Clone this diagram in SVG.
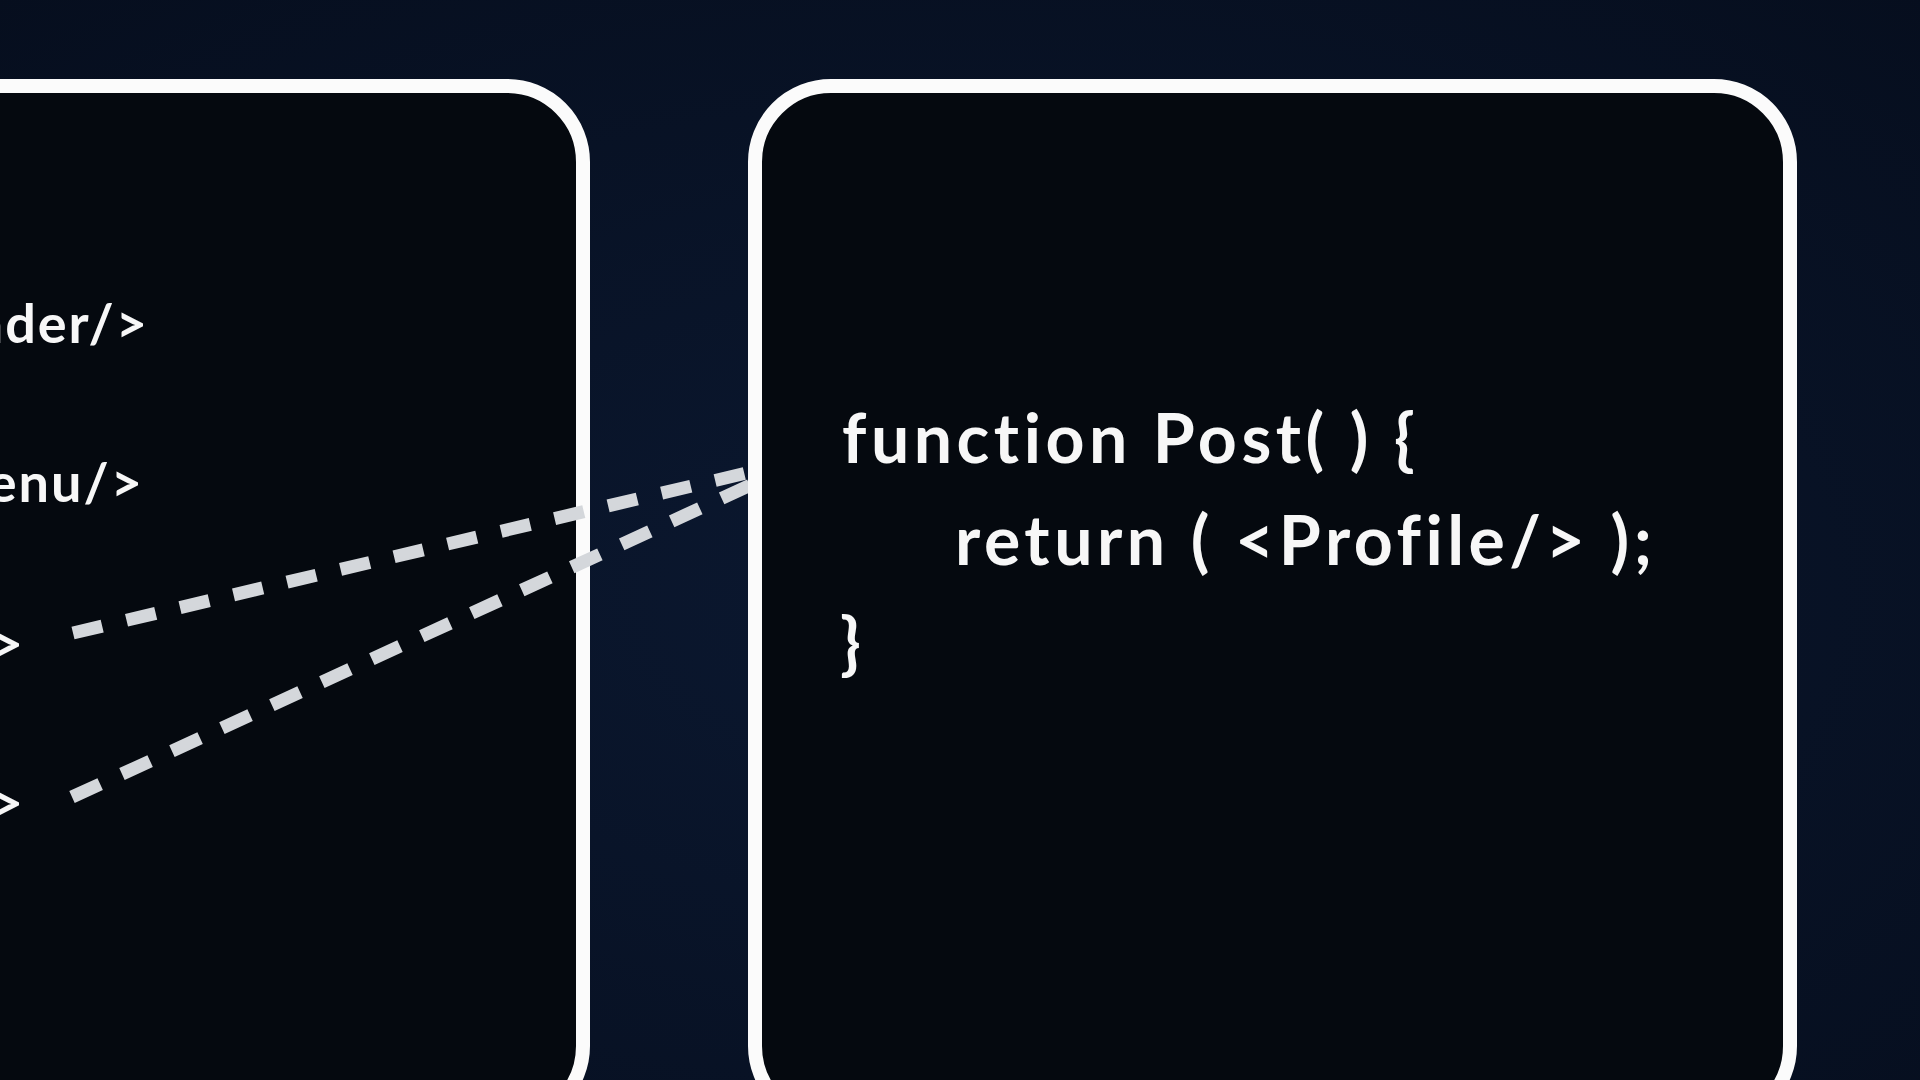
<svg xmlns="http://www.w3.org/2000/svg" width="1920" height="1080" viewBox="0 0 1920 1080">
<defs>
<radialGradient id="bg" cx="50%" cy="55%" r="75%">
<stop offset="0" stop-color="#0b1830"/>
<stop offset="1" stop-color="#060e1e"/>
</radialGradient>
<style>
.box{fill:#05090f;stroke:#fbfbfb;stroke-width:14}
.code{font-family:Lato,"Open Sans","Liberation Sans",sans-serif;font-weight:700;fill:#f7f7f7;font-variant-ligatures:none;font-feature-settings:"liga" 0,"clig" 0}
.lt{font-size:54px;letter-spacing:2px}
.rt{font-size:68px;letter-spacing:4.5px}
.dash{stroke:#d4d7db;stroke-width:13;fill:none;stroke-linecap:butt}
</style>
</defs>
<rect width="1920" height="1080" fill="url(#bg)"/>
<g id="app-box">
<rect class="box" x="-400" y="86" width="983" height="1036" rx="76"/>
<text class="code lt" x="149" y="343" text-anchor="end">&lt;Header/&gt;</text>
<text class="code lt" x="144" y="502" text-anchor="end">&lt;Menu/&gt;</text>
<text class="code lt" x="25" y="663" text-anchor="end">&lt;Post/&gt;</text>
<text class="code lt" x="25" y="822" text-anchor="end">&lt;Post/&gt;</text>
</g>
<g id="connectors">
<line class="dash" x1="73" y1="633" x2="755" y2="471" stroke-dasharray="30 25"/>
<line class="dash" x1="72" y1="797" x2="755" y2="483" stroke-dasharray="31 24"/>
</g>
<g id="post-box">
<rect class="box" x="755" y="86" width="1035" height="1036" rx="76"/>
<text class="code rt" x="842" y="463">function Post( ) {</text>
<text class="code rt" x="955" y="565">return ( &lt;Profile/&gt; );</text>
<text class="code rt" x="840" y="667">}</text>
</g>
</svg>
